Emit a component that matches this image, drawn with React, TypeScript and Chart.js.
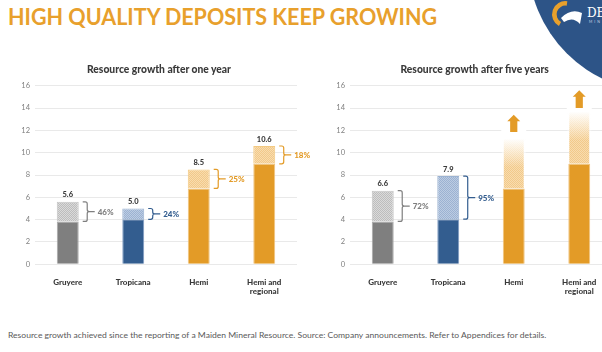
import React, { useEffect, useRef } from "react";
import { Chart, registerables } from "chart.js";
Chart.register(...registerables);

// ---------- data ----------
const categories: (string | string[])[] = ["Gruyere", "Tropicana", "Hemi", ["Hemi and", "regional"]];
const colorKeys = ["gray", "blue", "orange", "orange"];

const oneYearBase = [3.84, 4.03, 6.8, 9.0];
const oneYearTotal = [5.6, 5.0, 8.5, 10.6];
const oneYearValueLabels = ["5.6", "5.0", "8.5", "10.6"];
const oneYearGrowth = ["46%", "24%", "25%", "18%"];
const oneYearFaded = [false, false, false, false];
const oneYearArrowFrom: (number | null)[] = [null, null, null, null];
const oneYearArrowTo: (number | null)[] = [null, null, null, null];

const fiveYearBase = [3.84, 4.04, 6.8, 9.0];
const fiveYearTotal = [6.6, 7.9, 11.3, 13.7];
const fiveYearValueLabels = ["6.6", "7.9", "", ""];
const fiveYearGrowth = ["72%", "95%", "", ""];
const fiveYearFaded = [false, false, true, true];
const fiveYearArrowFrom: (number | null)[] = [null, null, 11.85, 14.0];
const fiveYearArrowTo: (number | null)[] = [null, null, 13.4, 15.6];

const yMin = 0;
const yMax = 16;
const yStep = 2;

const titleText = "HIGH QUALITY DEPOSITS KEEP GROWING";
const leftTitle = "Resource growth after one year";
const rightTitle = "Resource growth after five years";
const footerText =
  "Resource growth achieved since the reporting of a Maiden Mineral Resource. Source: Company announcements. Refer to Appendices for details.";

// ---------- styles ----------
const palette: Record<string, { solid: string; solidBorder: string; pBg: string; pFg: string; pBorder: string; text: string }> = {
  gray: { solid: "#7f7f7f", solidBorder: "#a8a8a8", pBg: "#dadada", pFg: "#bdbdbd", pBorder: "#c4c4c4", text: "#7f7f7f" },
  blue: { solid: "#335d8f", solidBorder: "#7f9cc3", pBg: "#bccce2", pFg: "#9cb2d2", pBorder: "#9cb3d2", text: "#335d8f" },
  orange: { solid: "#e39b27", solidBorder: "#f0c47f", pBg: "#f8dcae", pFg: "#f2c98a", pBorder: "#f3c981", text: "#e39b27" },
};

function makePattern(bg: string, fg: string) {
  const c = document.createElement("canvas");
  c.width = 2;
  c.height = 2;
  const x = c.getContext("2d")!;
  x.fillStyle = bg;
  x.fillRect(0, 0, 2, 2);
  x.fillStyle = fg;
  x.fillRect(0, 0, 1, 1);
  x.fillRect(1, 1, 1, 1);
  return x.createPattern(c, "repeat")!;
}

type Cfg = {
  base: number[];
  total: number[];
  valueLabels: string[];
  growth: string[];
  faded: boolean[];
  arrowFrom: (number | null)[];
  arrowTo: (number | null)[];
};

function makeAnnotPlugin(cfg: Cfg) {
  return {
    id: "annot",
    afterDatasetsDraw(chart: any) {
      const ctx: CanvasRenderingContext2D = chart.ctx;
      const y = chart.scales.y;
      const meta = chart.getDatasetMeta(1);
      ctx.save();
      cfg.total.forEach((t, i) => {
        const bar = meta.data[i];
        const cx = bar.x;
        const w = bar.width;
        const right = cx + w / 2;
        const yTop = y.getPixelForValue(t);
        const yBase = y.getPixelForValue(cfg.base[i]);
        const pal = palette[colorKeys[i]];

        if (cfg.faded[i]) {
          const yEnd = y.getPixelForValue(t - 2.6);
          const g = ctx.createLinearGradient(0, yTop, 0, yEnd);
          g.addColorStop(0, "rgba(255,255,255,1)");
          g.addColorStop(0.3, "rgba(255,255,255,0.7)");
          g.addColorStop(1, "rgba(255,255,255,0)");
          ctx.fillStyle = g;
          ctx.fillRect(cx - w / 2 - 1, yTop - 1, w + 2, yEnd - yTop + 1);
        }

        const af = cfg.arrowFrom[i];
        const at = cfg.arrowTo[i];
        if (af != null && at != null) {
          const yb = y.getPixelForValue(af);
          const yt = y.getPixelForValue(at);
          ctx.fillStyle = "#ffffff";
          ctx.fillRect(cx - 12.5, yt - 3, 25, yb - yt + 5);
          ctx.fillStyle = pal.solid;
          const hw = 6.5;
          const sw = 3.6;
          const hh = 6.5;
          ctx.beginPath();
          ctx.moveTo(cx, yt);
          ctx.lineTo(cx + hw, yt + hh);
          ctx.lineTo(cx + sw, yt + hh);
          ctx.lineTo(cx + sw, yb);
          ctx.lineTo(cx - sw, yb);
          ctx.lineTo(cx - sw, yt + hh);
          ctx.lineTo(cx - hw, yt + hh);
          ctx.closePath();
          ctx.fill();
        }

        if (cfg.valueLabels[i]) {
          ctx.fillStyle = "#3a3a3a";
          ctx.font = "900 7.5px Lato";
          ctx.textAlign = "center";
          ctx.textBaseline = "bottom";
          ctx.fillText(cfg.valueLabels[i], cx, yTop - 3);
        }

        if (cfg.growth[i]) {
          const x0 = right + 4;
          const xv = right + 8.5;
          const ym = (yTop + yBase) / 2;
          const r = 2;
          ctx.strokeStyle = pal.text;
          ctx.lineWidth = 1.2;
          ctx.beginPath();
          ctx.moveTo(x0, yTop);
          ctx.lineTo(xv - r, yTop);
          ctx.quadraticCurveTo(xv, yTop, xv, yTop + r);
          ctx.lineTo(xv, ym - r);
          ctx.quadraticCurveTo(xv, ym, xv + r, ym);
          ctx.quadraticCurveTo(xv, ym, xv, ym + r);
          ctx.lineTo(xv, yBase - r);
          ctx.quadraticCurveTo(xv, yBase, xv - r, yBase);
          ctx.lineTo(x0, yBase);
          ctx.moveTo(xv + r, ym);
          ctx.lineTo(right + 16, ym);
          ctx.stroke();
          ctx.fillStyle = pal.text;
          ctx.font = "900 8px Lato";
          ctx.textAlign = "left";
          ctx.textBaseline = "middle";
          ctx.fillText(cfg.growth[i], right + 19, ym + 0.5);
        }
      });
      ctx.restore();
    },
  };
}

function BarPanel(props: { cfg: Cfg; left: number; width: number; padRight: number }) {
  const ref = useRef<HTMLCanvasElement>(null);
  useEffect(() => {
    const { cfg } = props;
    const baseColors = colorKeys.map((k) => palette[k].solid);
    const baseBorders = colorKeys.map((k) => palette[k].solidBorder);
    const incColors = colorKeys.map((k) => makePattern(palette[k].pBg, palette[k].pFg));
    const incBorders = colorKeys.map((k, i) => (cfg.faded[i] ? "rgba(0,0,0,0)" : palette[k].pBorder));
    const increments = cfg.total.map((t, i) => t - cfg.base[i]);
    const chart = new Chart(ref.current!, {
      type: "bar",
      data: {
        labels: categories,
        datasets: [
          {
            data: cfg.base,
            backgroundColor: baseColors,
            borderColor: baseBorders,
            borderWidth: 1,
            barPercentage: 0.335,
            categoryPercentage: 1,
          },
          {
            data: increments,
            backgroundColor: incColors as any,
            borderColor: incBorders,
            borderWidth: 1,
            barPercentage: 0.335,
            categoryPercentage: 1,
          },
        ],
      },
      options: {
        responsive: false,
        maintainAspectRatio: false,
        animation: false,
        layout: { padding: { top: 25.7, right: props.padRight, left: 0, bottom: 0 } },
        plugins: { legend: { display: false }, tooltip: { enabled: false }, title: { display: false } },
        scales: {
          x: {
            stacked: true,
            grid: { display: false },
            border: { display: false },
            ticks: {
              color: "#3a3a3a",
              font: { family: "Lato", size: 8, weight: "900", lineHeight: 1.1 },
              padding: 6,
              maxRotation: 0,
              autoSkip: false,
            },
            afterFit: (s: any) => {
              s.height = 35.7;
            },
          },
          y: {
            stacked: true,
            min: yMin,
            max: yMax,
            grid: { color: "#e9e9e9", drawTicks: false, lineWidth: 1 },
            border: { display: false },
            ticks: {
              stepSize: yStep,
              color: "#808080",
              font: { family: "Lato", size: 7.5 },
              padding: 5,
            },
            afterFit: (s: any) => {
              s.width = 20;
            },
          },
        },
      },
      plugins: [makeAnnotPlugin(cfg)],
    });
    return () => chart.destroy();
  }, []);
  return (
    <canvas
      ref={ref}
      width={props.width}
      height={240}
      style={{ position: "absolute", left: props.left, top: 60, width: props.width, height: 240 }}
    />
  );
}

function FitText(props: { text: string; width: number; style: React.CSSProperties }) {
  const ref = useRef<HTMLSpanElement>(null);
  useEffect(() => {
    const el = ref.current!;
    const w = el.offsetWidth;
    if (w > 0) el.style.transform = `scaleX(${props.width / w})`;
  }, []);
  return (
    <span ref={ref} style={{ position: "absolute", whiteSpace: "nowrap", transformOrigin: "0 0", ...props.style }}>
      {props.text}
    </span>
  );
}

export default function App() {
  const oneYear: Cfg = {
    base: oneYearBase,
    total: oneYearTotal,
    valueLabels: oneYearValueLabels,
    growth: oneYearGrowth,
    faded: oneYearFaded,
    arrowFrom: oneYearArrowFrom,
    arrowTo: oneYearArrowTo,
  };
  const fiveYear: Cfg = {
    base: fiveYearBase,
    total: fiveYearTotal,
    valueLabels: fiveYearValueLabels,
    growth: fiveYearGrowth,
    faded: fiveYearFaded,
    arrowFrom: fiveYearArrowFrom,
    arrowTo: fiveYearArrowTo,
  };
  const chartTitleStyle: React.CSSProperties = {
    position: "absolute",
    width: 220,
    top: 63,
    textAlign: "center",
    fontSize: 10.3,
    fontWeight: 900,
    color: "#3a3a3a",
    lineHeight: "13px",
  };
  return (
    <div
      style={{
        position: "fixed",
        left: 0,
        top: 0,
        width: 602,
        height: 352,
        overflow: "hidden",
        background: "#ffffff",
        fontFamily: "Lato, sans-serif",
      }}
    >
      <svg width={602} height={352} style={{ position: "absolute", left: 0, top: 0 }}>
        <circle cx={660} cy={-40} r={132} fill="#2d5487" />
        <path d="M567 3.5 A 11 11 0 0 0 560 24" stroke="#e8a02c" strokeWidth={4.5} fill="none" />
        <path d="M561 18 Q 571 8 582 13 L 580 24 Q 573 16 564 22 Z" fill="#ffffff" />
        <text x={587} y={17} fill="#ffffff" fontFamily="DejaVu Serif, serif" fontSize={12}>
          DE
        </text>
        <text x={589} y={22.5} fill="#c8d3e4" fontFamily="Lato" fontSize={3.5} letterSpacing={2}>
          MIN
        </text>
      </svg>
      <FitText
        text={titleText}
        width={429}
        style={{ left: 8, top: 2, fontSize: 23, fontWeight: 700, color: "#e8a02c", lineHeight: "28px" }}
      />
      <BarPanel cfg={oneYear} left={15} width={305} padRight={23} />
      <BarPanel cfg={fiveYear} left={330} width={282} padRight={0} />
      <div style={{ ...chartTitleStyle, left: 49 }}>{leftTitle}</div>
      <div style={{ ...chartTitleStyle, left: 364.7 }}>{rightTitle}</div>
      <FitText
        text={footerText}
        width={538}
        style={{ left: 8, top: 329, fontSize: 8, color: "#595959", lineHeight: "12px" }}
      />
    </div>
  );
}
